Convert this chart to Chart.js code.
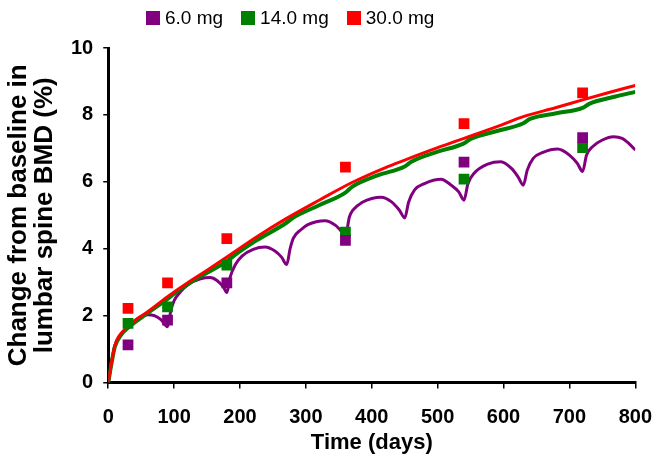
<!DOCTYPE html>
<html>
<head>
<meta charset="utf-8">
<script src="https://cdn.jsdelivr.net/npm/chart.js@4.4.0/dist/chart.umd.min.js"></script>
<style>
  body { margin: 0; background: #fff; }
  #wrap { position: relative; width: 660px; height: 474px; }
  #legend { position: absolute; left: 146px; top: 7px; display: flex; align-items: center;
            font-family: "Liberation Sans", Arial, sans-serif; font-size: 19px; color: #000; }
  #legend .item { display: flex; align-items: center; margin-right: 18px; }
  #legend .box { width: 14px; height: 14px; margin-right: 5px; }
</style>
</head>
<body>
<div id="wrap">
  <canvas id="grafico" width="660" height="474"></canvas>
  <div id="legend"></div>
</div>
<script>
const etiquetas = ["6.0 mg", "14.0 mg", "30.0 mg"];
const colores = ["#800080", "#008000", "#ff0000"];

// observed means
const diasObs = [30, 90, 180, 360, 540, 720];
const obs6 = [1.13, 1.87, 2.98, 4.25, 6.59, 7.32];
const obs14 = [1.77, 2.26, 3.51, 4.5, 6.08, 7.02];
const obs30 = [2.22, 2.98, 4.3, 6.44, 7.74, 8.66];

// model curves
const dias6 = [0, 5, 10, 20, 30, 40, 50, 60, 70, 80, 90, 95, 100, 110, 122, 140, 155, 165, 175, 180,
  185, 193, 203, 220, 238, 253, 263, 271, 276, 281, 292, 303, 329, 345, 354, 360,
  366, 372, 385, 400, 414, 430, 442, 450, 456, 465, 480, 505, 520, 532, 540,
  546, 555, 576, 596, 612, 622, 630, 636, 645, 660, 682, 700, 712, 720,
  726, 735, 750, 767, 780, 790, 800];
const mod6 = [0, 0.6, 1.1, 1.45, 1.65, 1.85, 1.98, 2.03, 2.0, 1.88, 1.67, 2.15, 2.45, 2.72, 2.94, 3.1, 3.14, 3.05, 2.85, 2.69,
  3.15, 3.53, 3.78, 3.98, 4.05, 3.93, 3.75, 3.53, 4.0, 4.32, 4.56, 4.72, 4.84, 4.7, 4.52, 4.37,
  4.95, 5.17, 5.38, 5.5, 5.54, 5.4, 5.15, 4.92, 5.4, 5.76, 5.95, 6.08, 5.91, 5.7, 5.45,
  5.95, 6.25, 6.53, 6.6, 6.4, 6.15, 5.9, 6.35, 6.7, 6.88, 6.98, 6.8, 6.55, 6.31,
  6.8, 7.05, 7.25, 7.35, 7.3, 7.15, 6.95];

const dias14 = [0, 5, 10, 20, 30, 60, 90, 100, 135, 180, 190, 225, 270, 280, 320, 360, 370, 410, 450,
  460, 500, 540, 550, 590, 630, 640, 680, 720, 730, 770, 800];
const mod14 = [0, 0.58, 1.07, 1.44, 1.64, 2.08, 2.5, 2.66, 3.12, 3.62, 3.78, 4.25, 4.77, 4.92, 5.3, 5.68, 5.85, 6.2, 6.46,
  6.6, 6.9, 7.15, 7.28, 7.52, 7.75, 7.88, 8.05, 8.21, 8.33, 8.55, 8.69];

const dias30 = [0, 5, 10, 15, 20, 30, 45, 60, 90, 120, 150, 180, 225, 270, 320, 370, 420, 450, 500, 540,
  590, 630, 680, 720, 760, 800];
const mod30 = [0, 0.6, 1.1, 1.35, 1.48, 1.68, 1.92, 2.12, 2.57, 2.98, 3.36, 3.75, 4.35, 4.9, 5.45, 5.98, 6.42, 6.65, 7.02, 7.3,
  7.65, 7.95, 8.22, 8.45, 8.67, 8.88];

const ticksX = [0, 100, 200, 300, 400, 500, 600, 700, 800];
const ticksY = [0, 2, 4, 6, 8, 10];

const pares = (xs, ys) => xs.map((x, i) => ({ x: x, y: ys[i] }));

// legend
const legend = document.getElementById("legend");
etiquetas.forEach((t, i) => {
  legend.innerHTML += `<div class="item"><div class="box" style="background:${colores[i]}"></div><span>${t}</span></div>`;
});

function curva(xs, ys, color, ancho, orden) {
  return {
    data: pares(xs, ys), showLine: true, borderColor: color, borderWidth: ancho,
    pointRadius: 0, cubicInterpolationMode: "monotone", order: orden
  };
}
function puntos(ys, color) {
  return {
    data: pares(diasObs, ys), showLine: false, backgroundColor: color, borderWidth: 0,
    pointStyle: "rect", pointRadius: 7.6, order: 0
  };
}

const fuente = "'Liberation Sans', Arial, sans-serif";

new Chart(document.getElementById("grafico"), {
  type: "scatter",
  data: {
    datasets: [
      curva(dias6, mod6, colores[0], 3, 3),
      curva(dias14, mod14, colores[1], 4, 2),
      curva(dias30, mod30, colores[2], 3, 1),
      puntos(obs6, colores[0]),
      puntos(obs14, colores[1]),
      puntos(obs30, colores[2])
    ]
  },
  options: {
    responsive: false,
    animation: false,
    layout: { padding: { left: 2, right: 0, top: 48, bottom: 14 } },
    plugins: { legend: { display: false }, tooltip: { enabled: false } },
    scales: {
      x: {
        type: "linear", min: 0, max: 800,
        afterBuildTicks: a => { a.ticks = ticksX.map(v => ({ value: v })); },
        grid: { drawOnChartArea: false, color: "#000", tickLength: 6, lineWidth: 1.5 },
        border: { color: "#000", width: 3 },
        ticks: { color: "#000", font: { family: fuente, size: 20, weight: "bold", lineHeight: 2.05 }, padding: 8, maxRotation: 0 },
        title: { display: true, text: "Time (days)", color: "#000",
                 font: { family: fuente, size: 22, weight: "bold" }, padding: { top: -16 } }
      },
      y: {
        min: 0, max: 10,
        afterBuildTicks: a => { a.ticks = ticksY.map(v => ({ value: v })); },
        grid: { drawOnChartArea: false, color: "#000", tickLength: 5, lineWidth: 1.5 },
        border: { color: "#000", width: 3 },
        ticks: { color: "#000", font: { family: fuente, size: 20, weight: "bold" }, padding: 10 },
        title: { display: true, text: ["Change from baseline in", "lumbar spine BMD (%)"], color: "#000",
                 font: { family: fuente, size: 26, weight: "bold", lineHeight: 1.0 }, padding: { bottom: 3 } }
      }
    }
  }
});
</script>
</body>
</html>
